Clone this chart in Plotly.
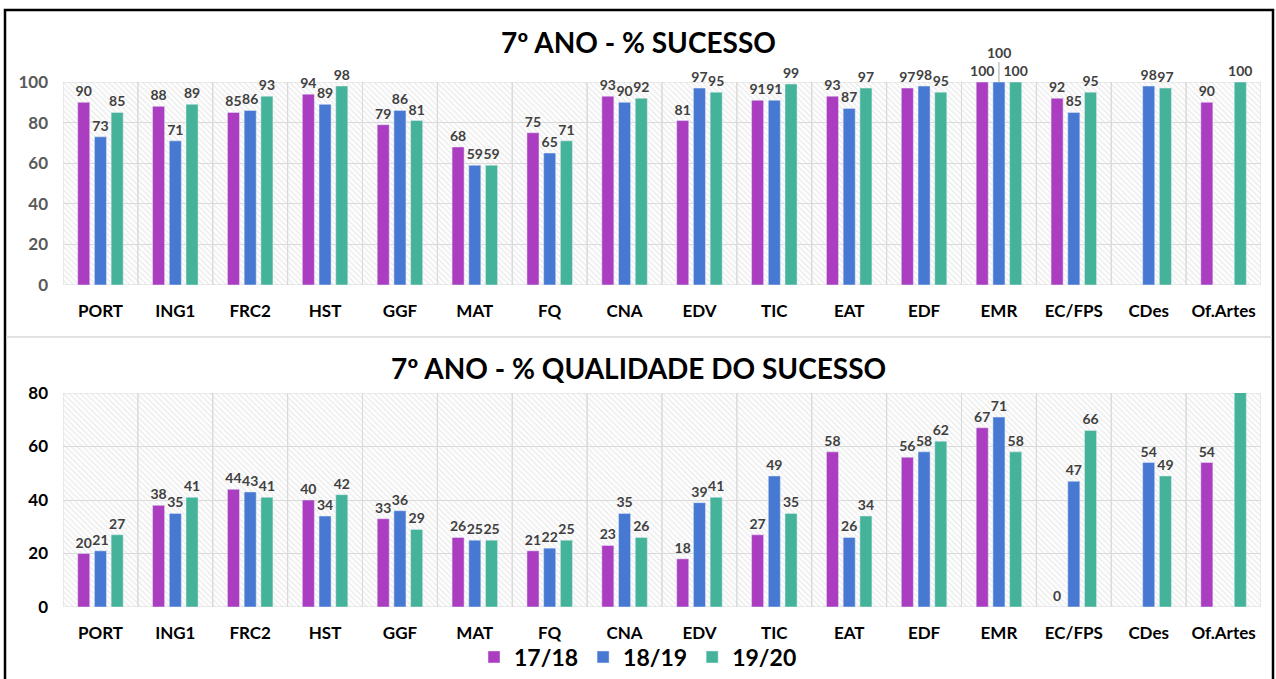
import plotly.graph_objects as go

categories = ["PORT", "ING1", "FRC2", "HST", "GGF", "MAT", "FQ", "CNA", "EDV",
              "TIC", "EAT", "EDF", "EMR", "EC/FPS", "CDes", "Of.Artes"]
series_names = ["17/18", "18/19", "19/20"]

sucesso_1718 = [90, 88, 85, 94, 79, 68, 75, 93, 81, 91, 93, 97, 100, 92, None, 90]
sucesso_1819 = [73, 71, 86, 89, 86, 59, 65, 90, 97, 91, 87, 98, 100, 85, 98, None]
sucesso_1920 = [85, 89, 93, 98, 81, 59, 71, 92, 95, 99, 97, 95, 100, 95, 97, 100]

qualidade_1718 = [20, 38, 44, 40, 33, 26, 21, 23, 18, 27, 58, 56, 67, 0, None, 54]
qualidade_1819 = [21, 35, 43, 34, 36, 25, 22, 35, 39, 49, 26, 58, 71, 47, 54, None]
qualidade_1920 = [27, 41, 41, 42, 29, 25, 25, 26, 41, 35, 34, 62, 58, 66, 49, 100]

top_ticks = [0, 20, 40, 60, 80, 100]
bottom_ticks = [0, 20, 40, 60, 80]

colors = ["#AB3DC1", "#4779D3", "#44B39A"]
FONT = "Lato"
W, H = 1276, 679

def py(px):
    return 1 - px / H

def pxx(px):
    return px / W

fig = go.Figure()

def label_texts(vals, ymax, skip=None):
    out = []
    for i, v in enumerate(vals):
        if v is None or v > ymax or (skip is not None and i == skip):
            out.append("")
        else:
            out.append(str(v))
    return out

# background hatched cells
for xa, ya, ymax in (("x", "y", top_ticks[-1]), ("x3", "y3", bottom_ticks[-1])):
    fig.add_trace(go.Bar(
        x=categories, y=[ymax] * len(categories), width=1,
        xaxis=xa, yaxis=ya, showlegend=False, hoverinfo="skip",
        marker=dict(color="rgba(0,0,0,0)",
                    line=dict(color="#D9D9D9", width=1),
                    pattern=dict(shape="\\", fgcolor="#DEDEDE",
                                 bgcolor="rgba(0,0,0,0)", size=4, solidity=0.45)),
    ))

emr_idx = categories.index("EMR")
LABEL_FONT = dict(family=FONT, size=14, color="#404040", weight="bold")

top_series = [sucesso_1718, sucesso_1819, sucesso_1920]
for k, (name, vals) in enumerate(zip(series_names, top_series)):
    fig.add_trace(go.Bar(
        x=categories, y=vals, name=name, xaxis="x2", yaxis="y",
        marker=dict(color=colors[k]), showlegend=False,
        text=label_texts(vals, top_ticks[-1], skip=emr_idx if k == 1 else None),
        textposition="outside", cliponaxis=False, constraintext="none",
        textfont=LABEL_FONT,
    ))

bottom_series = [qualidade_1718, qualidade_1819, qualidade_1920]
for k, (name, vals) in enumerate(zip(series_names, bottom_series)):
    fig.add_trace(go.Bar(
        x=categories, y=vals, name=name, xaxis="x4", yaxis="y3",
        marker=dict(color=colors[k]), showlegend=True,
        text=label_texts(vals, bottom_ticks[-1]),
        textposition="outside", cliponaxis=True, constraintext="none",
        textfont=LABEL_FONT,
    ))

# EMR 18/19 label displaced with leader line
fig.add_annotation(x="EMR", y=sucesso_1819[emr_idx], xref="x2", yref="y",
                   text=str(sucesso_1819[emr_idx]), showarrow=True, arrowhead=0,
                   arrowwidth=1, arrowcolor="#A6A6A6", ax=0, ay=-30,
                   font=LABEL_FONT)

xdom = [pxx(63), pxx(1261)]
top_dom = [py(285), py(82)]
bot_dom = [py(607), py(393)]

common_x = dict(type="category", categoryorder="array", categoryarray=categories,
                range=[-0.5, len(categories) - 0.5], showgrid=False, zeroline=False,
                fixedrange=True, automargin=False)
XTICK_FONT = dict(family=FONT, size=17, color="#000000", weight="bold")

fig.update_layout(
    width=W, height=H,
    margin=dict(l=0, r=0, t=0, b=0, autoexpand=False),
    paper_bgcolor="white", plot_bgcolor="rgba(0,0,0,0)",
    barmode="group", bargap=0.33, bargroupgap=0.28,
    font=dict(family=FONT),
    xaxis=dict(domain=xdom, anchor="y", showticklabels=True, tickfont=XTICK_FONT,
               ticks="", ticklabelstandoff=14, **common_x),
    xaxis2=dict(domain=xdom, anchor="y", overlaying="x", showticklabels=False, **common_x),
    xaxis3=dict(domain=xdom, anchor="y3", showticklabels=True, tickfont=XTICK_FONT,
                ticks="", ticklabelstandoff=14, **common_x),
    xaxis4=dict(domain=xdom, anchor="y3", overlaying="x3", showticklabels=False, **common_x),
    yaxis=dict(domain=top_dom, anchor="x", range=[top_ticks[0], top_ticks[-1]],
               tickvals=top_ticks, showgrid=True, gridcolor="#D9D9D9", gridwidth=1,
               zeroline=False, ticklabelstandoff=14, fixedrange=True, automargin=False,
               tickfont=dict(family=FONT, size=17, color="#595959", weight="bold")),
    yaxis3=dict(domain=bot_dom, anchor="x3", range=[bottom_ticks[0], bottom_ticks[-1]],
                tickvals=bottom_ticks, showgrid=True, gridcolor="#D9D9D9", gridwidth=1,
                zeroline=False, ticklabelstandoff=14, fixedrange=True, automargin=False,
                tickfont=dict(family=FONT, size=17, color="#000000", weight="bold")),
    legend=dict(orientation="h", x=0.5, xanchor="center", y=py(657), yanchor="middle",
                font=dict(family=FONT, size=23, color="#000000", weight="bold"),
                itemwidth=30, tracegroupgap=0, bgcolor="rgba(0,0,0,0)"),
    showlegend=True,
)

TITLE_FONT = dict(family=FONT, size=28, color="#000000", weight="bold")
fig.add_annotation(text="7º ANO - % SUCESSO", x=0.5, y=py(42), xref="paper", yref="paper",
                   showarrow=False, xanchor="center", yanchor="middle", font=TITLE_FONT)
fig.add_annotation(text="7º ANO - % QUALIDADE DO SUCESSO", x=0.5, y=py(368),
                   xref="paper", yref="paper", showarrow=False, xanchor="center",
                   yanchor="middle", font=TITLE_FONT)

# frame and divider
fig.add_shape(type="rect", xref="paper", yref="paper", x0=pxx(5), x1=pxx(1273),
              y0=-0.02, y1=py(10), line=dict(color="#000000", width=2.5),
              fillcolor="rgba(0,0,0,0)", layer="above")
fig.add_shape(type="line", xref="paper", yref="paper", x0=pxx(6), x1=pxx(1272),
              y0=py(337), y1=py(337), line=dict(color="#D9D9D9", width=1.5))

fig.write_html("out.html",
               config={"displayModeBar": False},
               post_script="document.body.style.margin='0';"
                           "document.body.style.overflow='hidden';")
